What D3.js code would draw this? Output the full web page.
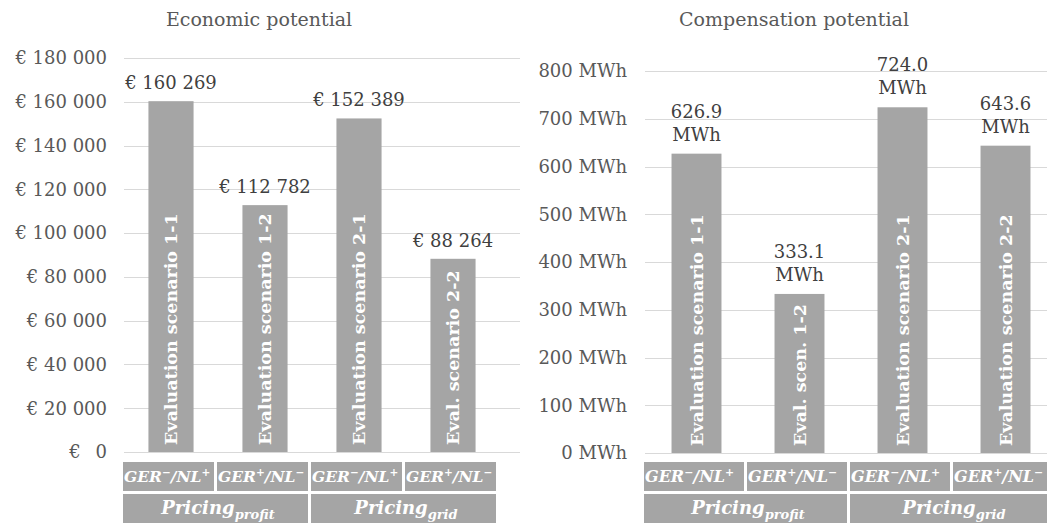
<!DOCTYPE html>
<html><head><meta charset="utf-8">
<script src="https://cdn.jsdelivr.net/npm/d3@7"></script>
<style>
html,body{margin:0;padding:0;background:#fff;}
svg{display:block;font-family:"DejaVu Serif",serif;}
</style></head>
<body><svg id="c" width="1047" height="523"></svg>
<script>
// ---- data ----
const scenarios = ["1-1","1-2","2-1","2-2"];
const economicValues = [160269, 112782, 152389, 88264];
const economicLabels = ["€ 160 269","€ 112 782","€ 152 389","€ 88 264"];
const economicBarText = ["Evaluation scenario 1-1","Evaluation scenario 1-2","Evaluation scenario 2-1","Eval. scenario 2-2"];
const economicTicks = [0,20000,40000,60000,80000,100000,120000,140000,160000,180000];
const economicTickLabels = ["€\u2002 0","€ 20 000","€ 40 000","€ 60 000","€ 80 000","€ 100 000","€ 120 000","€ 140 000","€ 160 000","€ 180 000"];
const compValues = [626.9, 333.1, 724.0, 643.6];
const compLabels = [["626.9","MWh"],["333.1","MWh"],["724.0","MWh"],["643.6","MWh"]];
const compBarText = ["Evaluation scenario 1-1","Eval. scen. 1-2","Evaluation scenario 2-1","Evaluation scenario 2-2"];
const compTicks = [0,100,200,300,400,500,600,700,800];
const compTickLabels = ["0 MWh","100 MWh","200 MWh","300 MWh","400 MWh","500 MWh","600 MWh","700 MWh","800 MWh"];
const marketLabels = [["GER","−","NL","+"],["GER","+","NL","−"],["GER","−","NL","+"],["GER","+","NL","−"]];
const pricingGroups = [["profit",[0,1]],["grid",[2,3]]];

const svg = d3.select("#c");
const BAR = "#a5a5a5", GRID = "#d9d9d9", TXT = "#404040", AX = "#595959";
let clipN = 0;

function panel(o){
  const g = svg.append("g");
  const x = d3.scaleBand().domain(scenarios).range(o.xr).paddingInner(o.pi).paddingOuter(o.pi/2);
  const y = d3.scaleLinear().domain(o.dom).range(o.yr);
  // title
  g.append("text").attr("x",o.tx).attr("y",26).attr("text-anchor","middle")
    .attr("font-size",19).attr("fill",AX).text(o.title);
  // grid
  g.selectAll("line.grid").data(o.ticks).join("line")
    .attr("x1",o.xr[0]).attr("x2",o.xr[1]+20)
    .attr("y1",d=>Math.round(y(d))+0.5).attr("y2",d=>Math.round(y(d))+0.5)
    .attr("stroke",GRID).attr("stroke-width",1);
  // tick labels
  g.selectAll("text.tick").data(o.ticks).join("text")
    .attr("x",o.lx).attr("y",d=>y(d)).attr("dy","0.35em")
    .attr("text-anchor","end").attr("font-size",18).attr("fill",AX)
    .style("white-space","pre")
    .text((d,i)=>o.tickLabels[i]);
  // bars
  g.selectAll("rect.bar").data(o.values).join("rect")
    .attr("x",(d,i)=>x(scenarios[i])).attr("width",x.bandwidth())
    .attr("y",d=>y(d)).attr("height",d=>y(0)-y(d)).attr("fill",BAR);
  // bar inner labels
  g.selectAll("text.inner").data(o.barText).join("text")
    .attr("transform",(d,i)=>`translate(${x(scenarios[i])+x.bandwidth()/2},${y(0)-7}) rotate(-90)`)
    .attr("dy","0.36em").attr("font-size",17.5).attr("font-weight","bold").attr("fill","#fff")
    .text(d=>d);
  // value labels
  o.values.forEach((v,i)=>{
    const cx = x(scenarios[i])+x.bandwidth()/2;
    const lab = o.labels[i];
    if(Array.isArray(lab)){
      lab.forEach((t,k)=>{
        g.append("text").attr("x",cx).attr("y",y(v)-36+k*23).attr("text-anchor","middle")
          .attr("font-size",18).attr("fill",TXT).text(t);
      });
    } else {
      g.append("text").attr("x",cx).attr("y",y(v)-12).attr("text-anchor","middle")
        .attr("font-size",18).attr("fill",TXT).text(lab);
    }
  });
  // category label boxes
  const step = x.step(), start = o.xr[0];
  const r1y = 462, r1h = 29, r2y = 494, r2h = 30;
  scenarios.forEach((s,i)=>{
    const bx = start + i*step;
    const id = "clip"+(clipN++);
    g.append("clipPath").attr("id",id).append("rect")
      .attr("x",bx-1).attr("y",r1y).attr("width",step-3).attr("height",r1h);
    g.append("rect").attr("x",bx-1).attr("y",r1y).attr("width",step-3).attr("height",r1h).attr("fill",BAR);
    const m = marketLabels[i];
    const t = g.append("text").attr("x",bx).attr("y",r1y+20).attr("font-size",o.catFs)
      .attr("clip-path",`url(#${id})`)
      .attr("font-weight","bold").attr("font-style","italic").attr("fill","#fff");
    t.append("tspan").text(m[0]);
    t.append("tspan").attr("font-size",o.catFs*0.68).attr("dy",-6).text(m[1]);
    t.append("tspan").attr("dy",6).text("/"+m[2]);
    t.append("tspan").attr("font-size",o.catFs*0.68).attr("dy",-6).text(m[3]);
  });
  pricingGroups.forEach(([sub,idx])=>{
    const bx = start + idx[0]*step;
    const w = step*idx.length;
    g.append("rect").attr("x",bx-1).attr("y",r2y).attr("width",w-3).attr("height",r2h).attr("fill",BAR);
    const t = g.append("text").attr("x",bx+w/2).attr("y",r2y+20).attr("text-anchor","middle")
      .attr("font-size",18).attr("font-weight","bold").attr("font-style","italic").attr("fill","#fff");
    t.append("tspan").text("Pricing");
    t.append("tspan").attr("font-size",13).attr("dy",5).text(sub);
  });
}

panel({title:"Economic potential", tx:259, xr:[124,500], pi:0.52, dom:[0,180000], yr:[452,58],
  ticks:economicTicks, tickLabels:economicTickLabels, lx:107, values:economicValues,
  labels:economicLabels, barText:economicBarText, catFs:15.5});
panel({title:"Compensation potential", tx:794, xr:[645,1057], pi:0.515, dom:[0,800], yr:[453,71],
  ticks:compTicks, tickLabels:compTickLabels, lx:627, values:compValues,
  labels:compLabels, barText:compBarText, catFs:16});
</script></body></html>
